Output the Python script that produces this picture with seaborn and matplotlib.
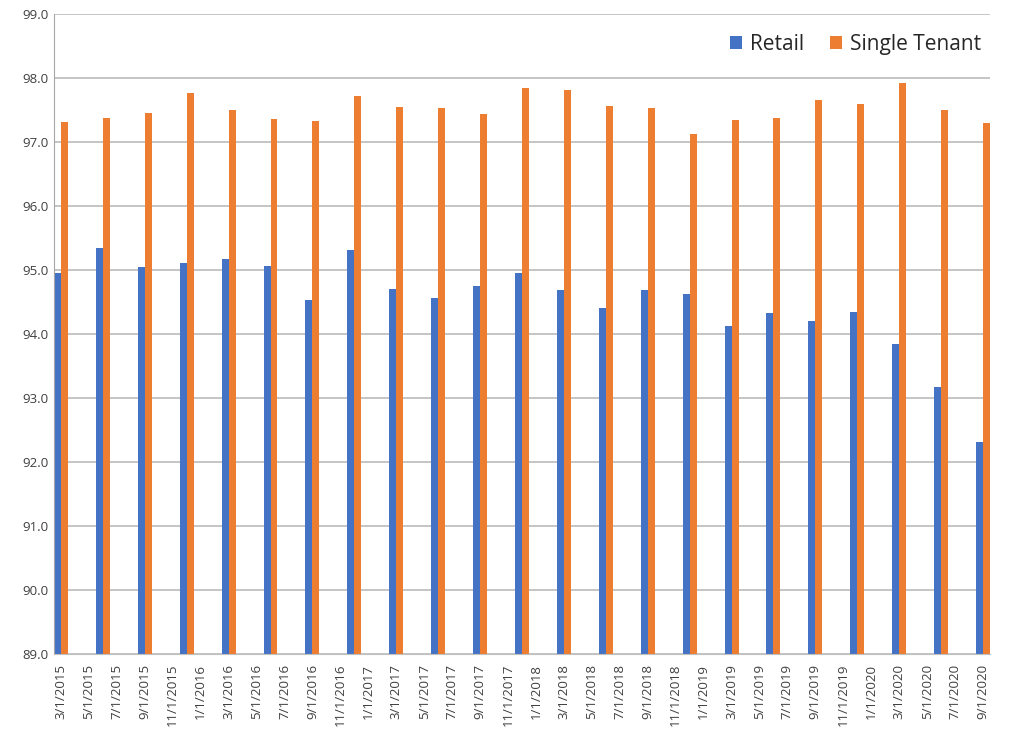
import pandas as pd
import matplotlib
matplotlib.use("Agg")
import matplotlib.pyplot as plt
import seaborn as sns

# quarterly observations, 3/1/2015 .. 9/1/2020
dates = pd.date_range("2015-03-01", "2020-09-01", freq="3MS")
retail = [94.95, 95.34, 95.05, 95.11, 95.17, 95.07, 94.53, 95.32,
          94.70, 94.56, 94.75, 94.95, 94.69, 94.41, 94.69, 94.62,
          94.12, 94.33, 94.21, 94.35, 93.84, 93.18, 92.31]
single_tenant = [97.32, 97.38, 97.45, 97.77, 97.50, 97.36, 97.33, 97.72,
                 97.55, 97.53, 97.43, 97.84, 97.82, 97.57, 97.53, 97.13,
                 97.35, 97.38, 97.65, 97.60, 97.92, 97.50, 97.30]
series_names = ["Retail", "Single Tenant"]
colors = ["#4472C4", "#ED7D31"]

start = dates[0]
def month_index(d):
    return (d.year - start.year) * 12 + (d.month - start.month)

months = [month_index(d) for d in dates]
df = pd.DataFrame({
    "month": months * 2,
    "value": retail + single_tenant,
    "series": [series_names[0]] * len(months) + [series_names[1]] * len(months),
})
# each month occupies one slot; the pair of bars fills the slot
df["pos"] = df["month"] + 0.5

sns.set_style("white")
plt.rcParams["font.family"] = ["Open Sans", "DejaVu Sans"]

fig = plt.figure(figsize=(10.18, 7.35), dpi=100)
ax = fig.add_axes([0.053, 0.110, 0.9195, 0.871])

sns.barplot(data=df, x="pos", y="value", hue="series", hue_order=series_names,
            palette=colors, saturation=1, native_scale=True, width=1 / 3,
            errorbar=None, linewidth=0, ax=ax)

n_months = months[-1] + 1
ax.set_xlim(0, n_months)
ax.set_ylim(89, 99)
ax.set_yticks(range(89, 100))
ax.set_yticklabels([f"{v:.1f}" for v in range(89, 100)], fontsize=9.5, color="#404040")
ax.yaxis.grid(True, color="#c0c0c0", linewidth=1.3)
ax.set_axisbelow(True)

# tick marks at month boundaries, labels centred in the slot, every 2 months
tick_months = list(range(0, n_months, 2))
tick_labels = []
for m in tick_months:
    d = start + pd.DateOffset(months=m)
    tick_labels.append(f"{d.month}/1/{d.year}")
ax.set_xticks(tick_months + [n_months])
ax.set_xticklabels([])
ax.set_xticks([m + 0.5 for m in tick_months], minor=True)
ax.set_xticklabels(tick_labels, minor=True, rotation=90, fontsize=9.5, color="#404040")
ax.tick_params(axis="x", which="major", length=5, color="#a6a6a6", width=1)
ax.tick_params(axis="x", which="minor", length=0, pad=7)
ax.tick_params(axis="y", length=0, pad=4)

for side in ["top", "right"]:
    ax.spines[side].set_visible(False)
ax.spines["left"].set_color("#a6a6a6")
ax.spines["bottom"].set_color("#c0c0c0")
ax.set_xlabel("")
ax.set_ylabel("")

ax.legend(loc="center right", bbox_to_anchor=(0.991, 0.952), ncol=2, frameon=False,
          fontsize=15, handlelength=0.6, handleheight=0.6, handletextpad=0.4,
          columnspacing=1.2, borderaxespad=0, borderpad=0)

fig.savefig("out.png", dpi=100, facecolor="white")
